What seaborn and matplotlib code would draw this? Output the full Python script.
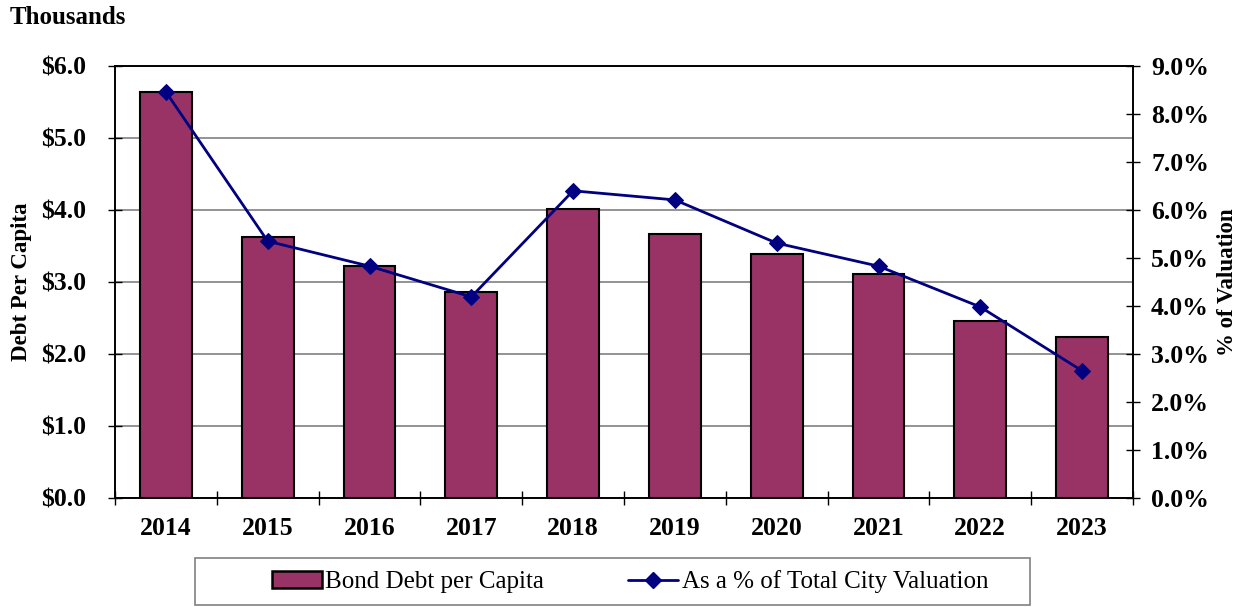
import matplotlib
matplotlib.use("Agg")
import matplotlib.pyplot as plt
import seaborn as sns
import pandas as pd
import numpy as np
from matplotlib.ticker import FixedLocator, FuncFormatter
from matplotlib.patches import Patch, Rectangle
from matplotlib.lines import Line2D

years = ["2014", "2015", "2016", "2017", "2018", "2019", "2020", "2021", "2022", "2023"]
debt_per_capita = [5.64, 3.62, 3.22, 2.86, 4.01, 3.67, 3.39, 3.11, 2.46, 2.24]
pct_valuation = [8.46, 5.35, 4.83, 4.19, 6.40, 6.21, 5.31, 4.83, 3.98, 2.65]

sns.set_theme(style="white")
plt.rcParams['font.family'] = ['Liberation Serif', 'DejaVu Serif']
plt.rcParams['text.color'] = 'black'
plt.rcParams['axes.labelcolor'] = 'black'
plt.rcParams['xtick.color'] = 'black'
plt.rcParams['ytick.color'] = 'black'

df = pd.DataFrame({"year": years, "debt": debt_per_capita, "pct": pct_valuation})

fig = plt.figure(figsize=(12.41, 6.07), dpi=100)
ax = fig.add_axes([115/1241, 1 - 498/607, (1133-115)/1241, (498-66)/607])

sns.barplot(data=df, x="year", y="debt", color="#993366", saturation=1,
            width=0.51, edgecolor="black", linewidth=1.5, ax=ax, zorder=3)
ax.set_xlim(-0.5, 9.5)
ax.set_ylim(0, 6)
ax.set_yticks(np.arange(0, 6.01, 1.0))
ax.yaxis.set_major_formatter(FuncFormatter(lambda v, p: f"${v:.1f}"))
ax.yaxis.grid(True, color="#808080", linewidth=1.2, zorder=0)
ax.set_axisbelow(True)
ax.set_xlabel("")
ax.set_ylabel("Debt Per Capita", fontsize=16.5, fontweight="bold", labelpad=6)

# x ticks between categories
ax.xaxis.set_major_locator(FixedLocator(np.arange(-0.5, 9.6, 1.0)))
ax.xaxis.set_major_formatter(FuncFormatter(lambda v, p: ""))
ax.set_xticks(np.arange(0, 10), labels=years, minor=True)
ax.tick_params(axis="x", which="major", direction="inout", length=10, width=1, color="black", bottom=True)
ax.tick_params(axis="x", which="minor", length=0, labelsize=18.5, pad=14)
for lbl in ax.get_xticklabels(minor=True):
    lbl.set_fontweight("bold")
ax.tick_params(axis="y", direction="inout", length=10, width=1, color="black", left=True, labelsize=18.5, pad=16)
for lbl in ax.get_yticklabels():
    lbl.set_fontweight("bold")

for s in ax.spines.values():
    s.set_color("black")
    s.set_linewidth(1.2)
    s.set_visible(True)

ax2 = ax.twinx()
sns.lineplot(data=df, x="year", y="pct", color="#000080", marker="D", markersize=8,
             linewidth=2, markeredgecolor="#000080", ax=ax2, zorder=5)
ax2.set_xlim(-0.5, 9.5)
ax2.set_ylim(0, 9)
ax2.set_yticks(np.arange(0, 9.01, 1.0))
ax2.yaxis.set_major_formatter(FuncFormatter(lambda v, p: f"{v:.1f}%"))
ax2.tick_params(axis="y", direction="inout", length=10, width=1, color="black", right=True, labelsize=18.5, pad=8)
for lbl in ax2.get_yticklabels():
    lbl.set_fontweight("bold")
ax2.set_ylabel("% of Valuation", fontsize=16.5, fontweight="bold", labelpad=6)
ax2.set_xlabel("")
ax2.grid(False)
for s in ax2.spines.values():
    s.set_color("black")
    s.set_linewidth(1.2)

fig.text(10/1241, 1 - 18/607, "Thousands", fontsize=18, fontweight="bold", va="center", ha="left")

# legend
fig.patches.append(Rectangle((195/1241, 1 - 605/607), (1030-195)/1241, (605-558)/607,
                             transform=fig.transFigure, facecolor="white",
                             edgecolor="#808080", linewidth=1.2, zorder=0))
handles = [Patch(facecolor="#993366", edgecolor="black", linewidth=1.8),
           Line2D([], [], color="#000080", marker="D", markersize=8, linewidth=2)]
leg = fig.legend(handles, ["Bond Debt per Capita", "As a % of Total City Valuation"],
                 loc="center", bbox_to_anchor=(630/1241, 1 - 582/607),
                 ncol=2, fontsize=18, frameon=False,
                 handlelength=2.0, handletextpad=0.15, columnspacing=3.35,
                 borderpad=0.3)
if ax2.get_legend():
    ax2.get_legend().remove()

fig.savefig("out.png", dpi=100)
